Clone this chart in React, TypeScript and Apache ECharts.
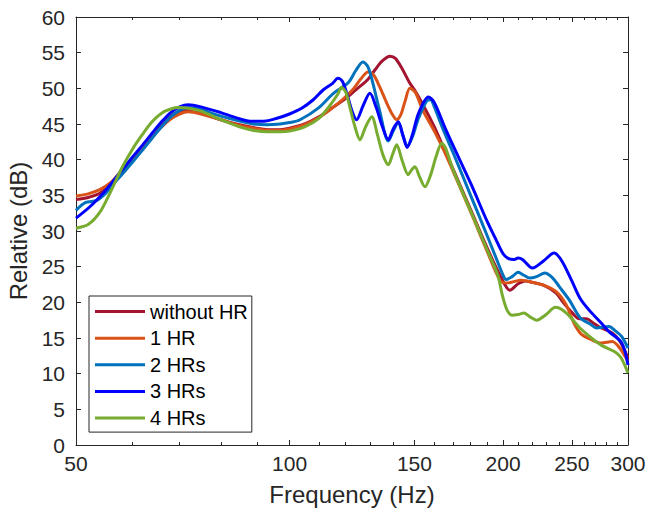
import React, { useEffect, useRef } from "react";
import * as echarts from "echarts";

const seriesNames = ["without HR", "1 HR", "2 HRs", "3 HRs", "4 HRs"];
const seriesColors = ["#A2142F", "#D95319", "#0072BD", "#0000FF", "#77AC30"];

const xMajorTicks = [50, 100, 150, 200, 250, 300];
const xMinorTicks = [
  60, 70, 80, 90, 110, 120, 130, 140, 160, 170, 180, 190, 210, 220, 230, 240,
  260, 270, 280, 290,
];

const fWithout = [50, 52, 54, 56, 58, 60, 62, 64, 66, 68, 70, 72, 75, 80, 85, 90, 93, 97, 100, 105, 110, 115, 120, 124, 128.5, 132, 135, 138.5, 141, 144, 147.8, 150, 155, 160, 165, 170, 180, 190, 198, 204.5, 210, 215, 220, 228, 237.6, 243, 250, 256, 262, 268, 275, 285, 292, 300];
const vWithout = [34.4, 34.7, 35.3, 36.5, 38.4, 40.1, 41.8, 43.4, 44.9, 46.1, 46.8, 47.0, 46.6, 45.6, 44.9, 44.4, 44.2, 44.2, 44.4, 45.0, 46.0, 47.3, 48.6, 49.8, 51.1, 52.6, 53.8, 54.5, 54.2, 52.8, 50.7, 49.8, 47.3, 44.6, 41.6, 38.7, 33.0, 27.6, 23.8, 21.7, 22.6, 23.0, 22.8, 22.4, 21.3, 20.0, 18.6, 17.7, 17.7, 17.1, 16.4, 15.7, 14.6, 12.2];

const fOne = [50, 52, 54, 56, 58, 60, 62, 64, 66, 68, 70, 72, 75, 80, 85, 90, 93, 97, 100, 105, 110, 115, 119, 123, 126, 129, 131.5, 134, 137, 139.5, 141.6, 143.5, 145.5, 147.8, 150.5, 154, 160, 165, 170, 180, 190, 198, 202.5, 207, 212, 220, 228, 237.6, 245, 252, 258, 266, 275, 285, 292, 300];
const vOne = [34.9, 35.2, 35.8, 36.8, 38.5, 40.1, 41.7, 43.2, 44.6, 45.7, 46.4, 46.7, 46.4, 45.6, 44.8, 44.3, 44.1, 44.1, 44.3, 44.9, 45.9, 47.3, 48.5, 49.9, 51.3, 52.3, 51.8, 50.2, 48.0, 46.4, 45.6, 46.3, 48.2, 50.0, 49.4, 47.0, 44.0, 41.3, 38.4, 32.7, 27.1, 23.1, 22.7, 22.9, 23.1, 22.8, 22.4, 21.5, 19.8, 17.0, 15.5, 14.8, 14.3, 14.5, 13.6, 11.7];

const fTwo = [50, 51.6, 53.5, 55.2, 56, 58, 60, 62, 64, 66, 68, 70, 72, 75, 80, 85, 89, 93, 97, 100, 103.5, 110, 115.3, 121, 124, 126.9, 129, 131, 134, 137.8, 140, 142.3, 144.5, 146.5, 149, 152, 156, 158, 160, 164.7, 170, 180, 190, 195, 200, 202, 206, 210, 214, 218, 223, 229, 235, 240, 248, 257, 265, 271, 276, 282, 288, 294, 300];
const vTwo = [32.9, 34.0, 34.3, 35.4, 36.2, 37.9, 39.6, 41.3, 43.0, 44.6, 46.0, 46.9, 47.3, 47.0, 46.1, 45.4, 45.0, 44.9, 45.0, 45.2, 45.6, 47.3, 49.3, 50.8, 52.5, 53.7, 53.0, 50.8, 46.8, 42.6, 44.0, 45.2, 43.4, 41.9, 43.2, 45.8, 48.2, 48.4, 47.4, 44.2, 41.0, 35.0, 29.3, 26.5, 23.8, 23.2, 23.6, 24.2, 23.8, 23.4, 23.6, 24.1, 23.4, 22.2, 20.3, 17.8, 17.0, 16.4, 16.5, 16.6, 16.0, 15.2, 13.6];

const fThree = [50, 52.3, 54.6, 56, 58, 60, 62, 64, 66, 68, 70, 72, 75, 80, 84, 88, 92, 96, 100, 104, 108, 111.6, 115, 117, 118.7, 120.5, 122.5, 124.3, 127, 129.8, 132.5, 135, 137.8, 140, 142.3, 144.5, 146.5, 149, 152, 156.9, 160, 165.6, 170, 180, 190, 195, 200, 203, 207, 210, 213, 220, 228, 236, 242, 250, 257, 265, 275, 282, 294, 300];
const vThree = [31.8, 33.4, 35.3, 36.6, 38.5, 40.3, 42.0, 43.7, 45.3, 46.6, 47.4, 47.7, 47.4, 46.6, 45.9, 45.4, 45.4, 45.8, 46.4, 47.2, 48.4, 49.8, 50.7, 51.4, 51.0, 49.2, 46.8, 45.6, 47.6, 49.3, 47.3, 44.8, 42.8, 44.3, 45.3, 43.4, 41.7, 43.5, 46.5, 48.8, 48.0, 44.5, 42.0, 36.7, 31.3, 29.0, 26.8, 26.2, 26.0, 26.2, 26.0, 24.8, 25.8, 26.9, 25.8, 23.0, 20.5, 18.8, 17.1, 15.9, 14.3, 11.2];

const fFour = [50, 52, 54, 56, 58, 60, 62, 64, 66, 68, 70, 72, 75, 80, 85, 89, 93, 97, 100, 105, 110, 114, 117, 118.4, 120, 121.6, 123.5, 125.7, 128, 130.6, 133, 135.5, 137.8, 139.8, 141.6, 144, 147, 148.7, 150.2, 152.5, 155.2, 158, 161, 163.9, 166, 170, 180, 190, 196.6, 199.5, 202.6, 206, 210, 214, 218, 223, 230, 237, 242, 248.5, 256, 265, 275, 287, 293, 300];
const vFour = [30.4, 30.9, 32.6, 35.6, 38.8, 41.4, 43.5, 45.3, 46.5, 47.1, 47.3, 47.2, 46.8, 45.6, 44.6, 44.1, 43.9, 43.9, 44.0, 44.6, 45.8, 47.6, 49.2, 50.1, 49.5, 47.4, 44.8, 42.8, 44.6, 46.0, 43.5, 40.6, 39.3, 40.8, 42.1, 40.0, 37.9, 38.6, 39.0, 37.6, 36.2, 37.8, 40.5, 42.3, 41.6, 38.6, 32.8, 27.3, 23.8, 21.0, 18.9, 18.2, 18.3, 18.5, 18.0, 17.5, 18.3, 19.3, 19.0, 18.0, 16.5, 15.2, 14.0, 13.1, 12.3, 10.1];

const freqs = [fWithout, fOne, fTwo, fThree, fFour];
const values = [vWithout, vOne, vTwo, vThree, vFour];

const FONT = "'Liberation Sans', Arial, Helvetica, sans-serif";
const AXIS_COLOR = "#262626";

function pairs(f: number[], v: number[]) {
  return f.map((x, i) => [x, v[i]]);
}

function logAxis(position: string, ticks: number[], len: number, showLine: boolean, withLabels: boolean) {
  const ax: any = {
    type: "log",
    logBase: 10,
    min: 50,
    max: 300,
    gridIndex: 0,
    position,
    axisLine: { show: showLine, lineStyle: { color: AXIS_COLOR, width: 1 } },
    axisTick: {
      show: true,
      inside: true,
      length: len,
      customValues: ticks,
      lineStyle: { color: AXIS_COLOR, width: 1 },
    },
    axisLabel: withLabels
      ? { show: true, customValues: ticks, fontSize: 21, color: AXIS_COLOR, fontFamily: FONT, margin: 8 }
      : { show: false },
    splitLine: { show: false },
    minorTick: { show: false },
    minorSplitLine: { show: false },
  };
  if (withLabels) {
    ax.name = "Frequency (Hz)";
    ax.nameLocation = "middle";
    ax.nameGap = 37;
    ax.nameTextStyle = { fontSize: 24, color: AXIS_COLOR, fontFamily: FONT };
  }
  return ax;
}

function valAxis(position: string, withLabels: boolean) {
  const ax: any = {
    type: "value",
    min: 0,
    max: 60,
    interval: 5,
    gridIndex: 0,
    position,
    axisLine: { show: true, lineStyle: { color: AXIS_COLOR, width: 1 } },
    axisTick: { show: true, inside: true, length: 5, lineStyle: { color: AXIS_COLOR, width: 1 } },
    axisLabel: withLabels
      ? { show: true, fontSize: 21, color: AXIS_COLOR, fontFamily: FONT, margin: 11 }
      : { show: false },
    splitLine: { show: false },
  };
  if (withLabels) {
    ax.name = "Relative (dB)";
    ax.nameLocation = "middle";
    ax.nameGap = 38;
    ax.nameRotate = 90;
    ax.nameTextStyle = { fontSize: 24, color: AXIS_COLOR, fontFamily: FONT };
  }
  return ax;
}

export default function App() {
  const ref = useRef<HTMLDivElement>(null);
  useEffect(() => {
    if (!ref.current) return;
    const chart = echarts.init(ref.current, null, { renderer: "svg" });
    const option: any = {
      animation: false,
      backgroundColor: "#ffffff",
      color: seriesColors,
      grid: { left: 76, right: 19, top: 17, bottom: 69, containLabel: false, outerBoundsMode: "none" },
      xAxis: [
        logAxis("bottom", xMajorTicks, 5, true, true),
        logAxis("bottom", xMinorTicks, 3, false, false),
        logAxis("top", xMajorTicks, 5, true, false),
        logAxis("top", xMinorTicks, 3, false, false),
      ],
      yAxis: [valAxis("left", true), valAxis("right", false)],
      legend: {
        show: true,
        orient: "vertical",
        left: 89,
        top: 296,
        icon: "rect",
        itemWidth: 50,
        itemHeight: 3,
        itemGap: 6.65,
        padding: [5.5, 4, 4, 6],
        borderColor: AXIS_COLOR,
        borderWidth: 1,
        backgroundColor: "#ffffff",
        textStyle: { fontSize: 20, lineHeight: 20, color: "#000000", fontFamily: FONT },
        data: seriesNames,
      },
      series: seriesNames.map((name, i) => ({
        name,
        type: "line",
        xAxisIndex: 0,
        yAxisIndex: 0,
        data: pairs(freqs[i], values[i]),
        symbol: "none",
        showSymbol: false,
        smooth: 0.3,
        lineStyle: { width: 3, color: seriesColors[i] },
        itemStyle: { color: seriesColors[i] },
        z: 2 + i,
      })),
    };
    chart.setOption(option);
    return () => chart.dispose();
  }, []);
  return <div ref={ref} style={{ width: 647, height: 514, position: "absolute", left: 0, top: 0 }} />;
}
